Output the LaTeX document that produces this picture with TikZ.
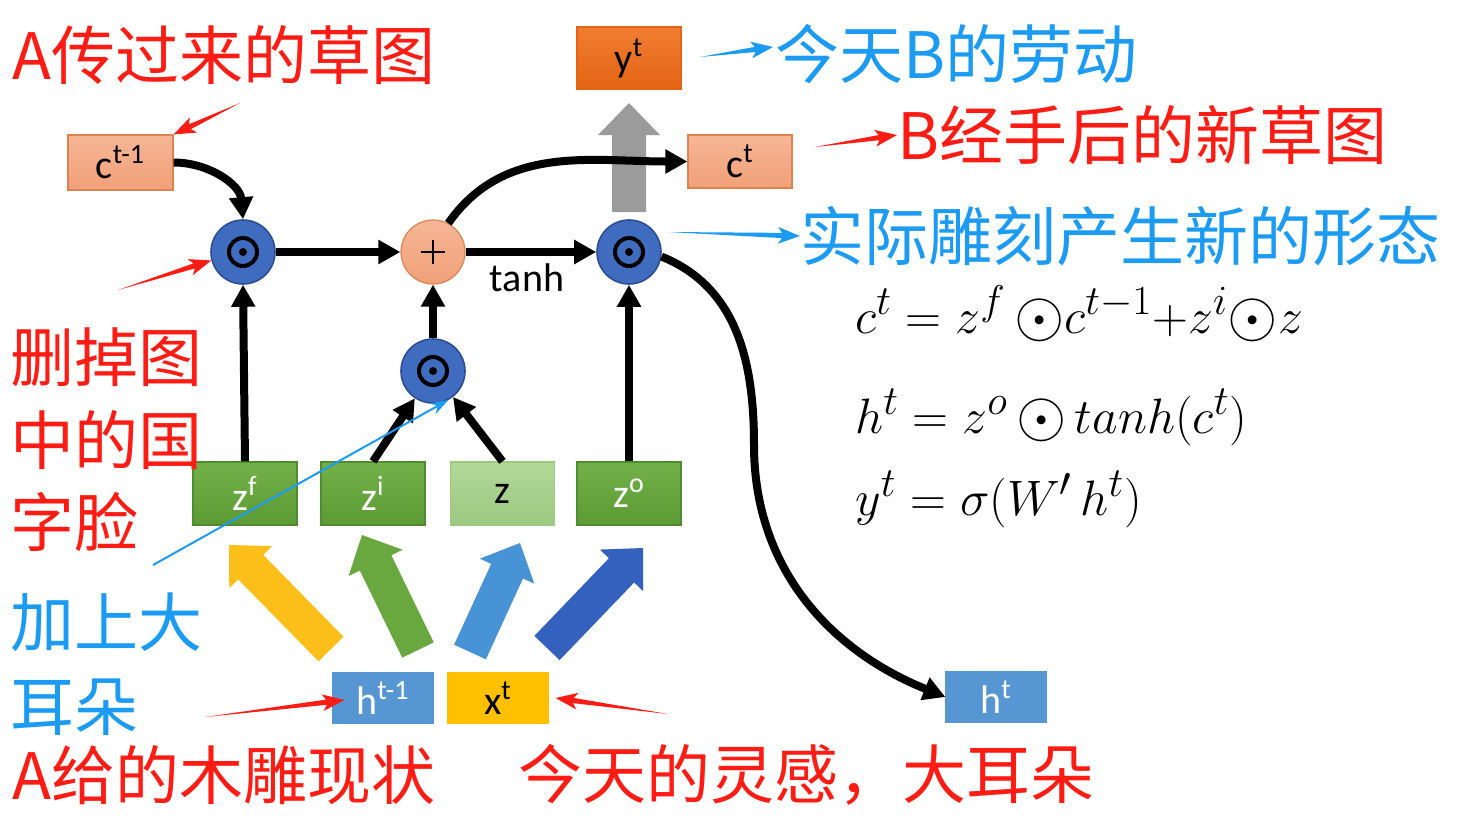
\documentclass[tikz,border=0pt]{standalone}
\usepackage{fontspec}
\setmainfont{Carlito}
\newfontfamily\cjk{Noto Sans CJK SC}
\usetikzlibrary{arrows.meta,calc}
\definecolor{txtred}{RGB}{255,28,20}
\definecolor{txtblue}{RGB}{28,155,245}
\definecolor{salmonT}{RGB}{246,182,150}
\definecolor{salmonB}{RGB}{240,160,120}
\definecolor{salmonD}{RGB}{222,130,80}
\definecolor{orngT}{RGB}{240,125,50}
\definecolor{orngB}{RGB}{228,100,20}
\definecolor{grnT}{RGB}{114,176,74}
\definecolor{grnB}{RGB}{92,154,52}
\definecolor{grnD}{RGB}{80,140,45}
\definecolor{lgrnT}{RGB}{178,216,152}
\definecolor{lgrnB}{RGB}{156,200,128}
\definecolor{hblue}{RGB}{86,150,210}
\definecolor{gold}{RGB}{255,192,0}
\definecolor{cblue}{RGB}{64,108,192}
\definecolor{cblueD}{RGB}{45,78,150}
\definecolor{fyel}{RGB}{252,190,25}
\definecolor{fgrn}{RGB}{104,168,62}
\definecolor{flblue}{RGB}{72,146,214}
\definecolor{fdblue}{RGB}{52,96,190}
\definecolor{fgray}{RGB}{155,155,155}

\newcommand\bodot{\mathord{\vcenter{\hbox{\scalebox{1.3}{$\odot$}}}}}

% tapered pointer arrow: colour, from, to
\newcommand\ptr[3]{%
  \fill[#1] (#2) -- ($(#3)!9pt!(#2)!1.3pt!90:(#3)$) -- ($(#3)!11pt!(#2)!4.2pt!90:(#3)$)
    -- (#3) -- ($(#3)!11pt!(#2)!4.2pt!-90:(#3)$) -- ($(#3)!9pt!(#2)!1.3pt!-90:(#3)$) -- cycle;}
% fat block arrow: name, tail, tip, colour, shaft half width, head half width, head length
\newcommand\fatarr[7]{%
  \coordinate (#1t) at #2; \coordinate (#1h) at #3;
  \fill[#4] ($(#1t)!#5!90:(#1h)$) -- ($(#1h)!#7!(#1t)!#5!90:(#1h)$) -- ($(#1h)!#7!(#1t)!#6!90:(#1h)$)
    -- (#1h) -- ($(#1h)!#7!(#1t)!#6!-90:(#1h)$) -- ($(#1h)!#7!(#1t)!#5!-90:(#1h)$)
    -- ($(#1t)!#5!-90:(#1h)$) -- cycle;}

\tikzset{
  box/.style={draw, line width=0.6pt, inner sep=0pt, font=\fontsize{20}{22}\selectfont},
  salbox/.style={box, top color=salmonT, bottom color=salmonB, draw=salmonD},
  grnbox/.style={box, top color=grnT, bottom color=grnB, draw=grnD, text=white},
  opnode/.style={circle, minimum size=32pt, inner sep=0pt, fill=cblue, draw=cblueD, line width=0.8pt,
    path picture={\draw[black, line width=2pt] (path picture bounding box.center) circle (7pt);
                  \fill[black] (path picture bounding box.center) circle (2pt);}},
  plusnode/.style={circle, minimum size=32pt, inner sep=0pt, top color=salmonT, bottom color=salmonB, draw=salmonD, line width=0.6pt,
    path picture={\draw[black, line width=0.8pt] ($(path picture bounding box.center)+(-6pt,0)$) -- ($(path picture bounding box.center)+(6pt,0)$);
                  \draw[black, line width=0.8pt] ($(path picture bounding box.center)+(0,-6pt)$) -- ($(path picture bounding box.center)+(0,6pt)$);}},
  blk/.style={line width=4pt, -{Triangle[length=11pt,width=11.5pt]}},
  cjktxt/.style={inner sep=0pt, anchor=west, font=\cjk\fontsize{32}{38}\selectfont},
  eqn/.style={inner sep=0pt, anchor=base west, font=\fontsize{28}{32}\selectfont},
}

\begin{document}
\begin{tikzpicture}[x=0.5pt,y=-0.5pt]
\useasboundingbox (0,0) rectangle (1479,826);
\fill[white] (0,0) rectangle (1479,826);

% boxes
\node[salbox, minimum width=52.5pt, minimum height=27.5pt] (cprev) at (120.5,162.5) {c\textsuperscript{t-1}};
\node[box, top color=orngT, bottom color=orngB, draw=orngB, minimum width=52pt, minimum height=31pt] (yt) at (629,58) {y\textsuperscript{t}};
\node[salbox, minimum width=52pt, minimum height=26.5pt] (ct) at (740,161.5) {c\textsuperscript{t}};
\node[grnbox, minimum width=52pt, minimum height=31.5pt] (zf) at (245,493.5) {z\textsuperscript{f}};
\node[grnbox, minimum width=52pt, minimum height=31.5pt] (zi) at (373,493.5) {z\textsuperscript{i}};
\node[box, top color=lgrnT, bottom color=lgrnB, draw=lgrnB, minimum width=52pt, minimum height=31.5pt] (z) at (502.5,493.5) {z};
\node[grnbox, minimum width=52pt, minimum height=31.5pt] (zo) at (629,493.5) {z\textsuperscript{o}};
\node[box, fill=hblue, draw=hblue, text=white, minimum width=50pt, minimum height=25pt] (hprev) at (383,698) {h\textsuperscript{t-1}};
\node[box, fill=gold, draw=gold, minimum width=50pt, minimum height=25pt] (xt) at (498,698) {x\textsuperscript{t}};
\node[box, fill=hblue, draw=hblue, text=white, minimum width=50pt, minimum height=25pt] (ht) at (996,697) {h\textsuperscript{t}};

% operators
\node[opnode] (c1) at (243,252) {};
\node[plusnode] (plus) at (433,252) {};
\node[opnode] (c3) at (629,252) {};
\node[opnode] (c2) at (433,371) {};

% fat arrows
\fatarr{fa1}{(331,649)}{(229,545)}{fyel}{8.75pt}{15pt}{15.5pt}
\fatarr{fa2}{(418,650)}{(362,535)}{fgrn}{8.75pt}{15pt}{15.5pt}
\fatarr{fa3}{(470,652)}{(520,543)}{flblue}{8.75pt}{15pt}{15.5pt}
\fatarr{fa4}{(547,648)}{(643,548)}{fdblue}{8.75pt}{15pt}{15.5pt}
\fatarr{gr}{(629,212)}{(629,103)}{fgray}{8.5pt}{15.5pt}{16pt}

% black connectors
\draw[blk] (cprev.east) to[out=0,in=95] (c1.north);
\draw[blk] (c1.east) -- (plus.west);
\draw[blk] (plus.east) -- (c3.west);
\node[inner sep=0pt, anchor=base, font=\fontsize{20}{24}\selectfont] (tanh) at (527,291) {tanh};
\draw[blk] (plus.62) to[out=55,in=180] (ct.west);
\draw[blk] (c2.north) -- (plus.south);
\draw[blk] (zf.north) -- (c1.south);
\draw[blk] (zi.north) -- (c2);
\draw[blk] (z.north) -- (c2);
\draw[blk] (zo.north) -- (c3.south);
\coordinate (hmid) at (754,445);
\draw[line width=4pt] (c3.-8) to[out=-22,in=90] (hmid);
\draw[blk] (hmid) to[out=-90,in=158] (ht.west);

% equations
\node[eqn] (e1) at (855,333) {$c^t = z^f\,\bodot c^{t-1}{+}z^i\bodot z$};
\node[eqn] (e2) at (855,433) {$h^t = z^o\,\bodot\, tanh(c^t)$};
\node[eqn] (e3) at (855,515) {$y^t = \sigma(W'\,h^t)$};

% annotations
\node[cjktxt, text=txtred] (tA) at (12,55) {A传过来的草图};
\node[cjktxt, text=txtblue] (tB) at (775,54) {今天B的劳动};
\node[cjktxt, text=txtred] (tC) at (897,135) {B经手后的新草图};
\node[cjktxt, text=txtblue] (tD) at (800,236) {实际雕刻产生新的形态};
\node[cjktxt, text=txtred] (tE1) at (10,357) {删掉图};
\node[cjktxt, text=txtred] (tE2) at (10,440) {中的国};
\node[cjktxt, text=txtred] (tE3) at (10,522) {字脸};
\node[cjktxt, text=txtblue] (tF1) at (10,622) {加上大};
\node[cjktxt, text=txtblue] (tF2) at (10,707) {耳朵};
\node[cjktxt, text=txtred] (tG) at (12,775) {A给的木雕现状};
\node[cjktxt, text=txtred] (tH) at (518,775) {今天的灵感，大耳朵};

% pointer arrows
\coordinate (p1) at (240,103);
\coordinate (p2) at (118,290);
\coordinate (p3) at (700,57);
\coordinate (q3) at ($(tB.west)+(-2,-7)$);
\coordinate (p4) at (815,147);
\coordinate (p5) at (668,232);
\coordinate (p6) at (153,565);
\coordinate (p7) at (205,717);
\coordinate (q7) at ($(hprev.west)+(12,2)$);
\coordinate (p8) at (668,714);
\coordinate (q8) at ($(xt.east)+(7,0)$);
\ptr{txtred}{p1}{cprev.north east}
\ptr{txtred}{p2}{c1.195}
\ptr{txtblue}{p3}{q3}
\ptr{txtred}{p4}{tC.west}
\ptr{txtblue}{p5}{tD.west}
\draw[txtblue, line width=1pt, -{Stealth[length=9pt,width=6pt]}] (p6) -- (c2.-62);
\ptr{txtred}{p7}{q7}
\ptr{txtred}{p8}{q8}
\end{tikzpicture}
\end{document}
